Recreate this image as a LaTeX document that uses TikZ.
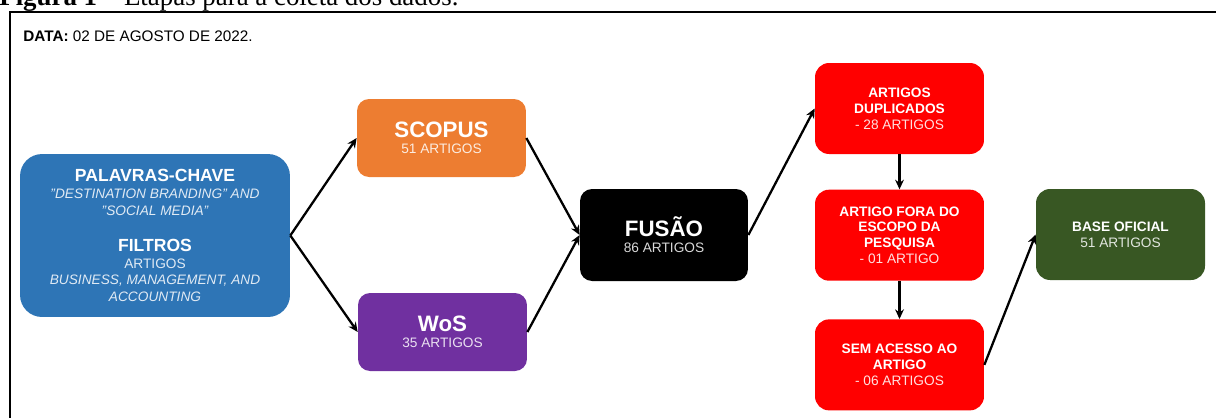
\documentclass[tikz,border=0pt]{standalone}
\usepackage{fontspec}
\setmainfont{Liberation Serif}
\setsansfont{Liberation Sans}
\usepackage{xcolor}
\usetikzlibrary{positioning,arrows.meta,shapes}

\definecolor{azul}{HTML}{2E75B6}
\definecolor{laranja}{HTML}{ED7D31}
\definecolor{roxo}{HTML}{7030A0}
\definecolor{vermelho}{HTML}{FF0000}
\definecolor{verde}{HTML}{385723}

\newcommand{\titulo}[1]{{\fontsize{12.7pt}{15pt}\selectfont\bfseries #1}}
\newcommand{\subtitulo}[1]{{\fontsize{10pt}{12pt}\selectfont\bfseries #1}}

\begin{document}
\begin{tikzpicture}[
			x=0.02cm, y=-0.02cm,
			node distance=0.7cm,
			block/.style={rectangle, rounded corners=0.24cm, minimum width=3.38cm, minimum height=1.56cm, align=center, inner sep=2pt, text=white, font=\sffamily\fontsize{7.8pt}{9pt}\selectfont},
			redblock/.style={block, fill=vermelho, minimum height=1.82cm, rounded corners=0.28cm},
			arrow/.style={->, line width=1.3pt, >={Stealth[length=5.5pt, width=5pt]}}
		]
		\useasboundingbox (0,0) rectangle (1216,417);

		% legenda e moldura
		\node[anchor=base west, inner sep=0, font=\fontsize{15.3pt}{17pt}\selectfont] (figura) at (-1,5.5) {\textbf{Figura 1} -- Etapas para a coleta dos dados.};
		\draw[line width=1.2pt] (1230,12) -| (10,430);

		\node[anchor=base west, inner sep=0, font=\sffamily\fontsize{8.7pt}{10pt}\selectfont] (data) at (23,41) {\textbf{DATA:} 02 DE AGOSTO DE 2022.};

		\node[block, fill=azul, minimum width=5.4cm, minimum height=3.26cm, rounded corners=0.44cm, font=\sffamily\fontsize{7.8pt}{9.6pt}\selectfont] (palavras) at (155,235.5) {
			\subtitulo{PALAVRAS-CHAVE}\\
			{\color{white!85!azul}\itshape "DESTINATION BRANDING" AND}\\
			{\color{white!85!azul}\itshape "SOCIAL MEDIA"}\\[11pt]
			\subtitulo{FILTROS}\\
			{\color{white!85!azul}ARTIGOS}\\
			{\color{white!85!azul}\itshape BUSINESS, MANAGEMENT, AND}\\
			{\color{white!85!azul}\itshape ACCOUNTING}
		};

		\node[block, fill=laranja] (scopus) at (441.5,138) {
			\titulo{SCOPUS}\\
			{\color{white!85!laranja}51 ARTIGOS}
		};

		\node[block, fill=roxo] (wos) at (442.5,332) {
			\titulo{WoS}\\
			{\color{white!85!roxo}35 ARTIGOS}
		};

		\node[block, fill=black, minimum width=3.36cm, minimum height=1.84cm] (fusao) at (664,235) {
			\titulo{FUSÃO}\\
			{\color{white!85!black}86 ARTIGOS}
		};

		\node[redblock] (duplicados) at (899.5,108.5) {
			\textbf{ARTIGOS}\\
			\textbf{DUPLICADOS}\\
			{\color{white!88!vermelho}- 28 ARTIGOS}
		};

		\node[redblock, below=of duplicados] (fora) {
			\textbf{ARTIGO FORA DO}\\
			\textbf{ESCOPO DA}\\
			\textbf{PESQUISA}\\
			{\color{white!88!vermelho}- 01 ARTIGO}
		};

		\node[redblock, below=0.76cm of fora] (semacesso) {
			\textbf{SEM ACESSO AO}\\
			\textbf{ARTIGO}\\
			{\color{white!88!vermelho}- 06 ARTIGOS}
		};

		\node[block, fill=verde, minimum height=1.82cm, rounded corners=0.28cm] (base) at (1120.5,234.5) {
			\textbf{BASE OFICIAL}\\
			{\color{white!85!verde}51 ARTIGOS}
		};

		\draw[arrow] (palavras.east) -- (scopus.west);
		\draw[arrow] (palavras.east) -- (wos.west);
		\draw[arrow] (scopus.east) -- (fusao.west);
		\draw[arrow] (wos.east) -- (fusao.west);
		\draw[arrow] (fusao.east) -- (duplicados.west);
		\draw[arrow] (duplicados) -- (fora);
		\draw[arrow] (fora) -- (semacesso);
		\draw[arrow] (semacesso.east) -- (base.west);
	\end{tikzpicture}
\end{document}
